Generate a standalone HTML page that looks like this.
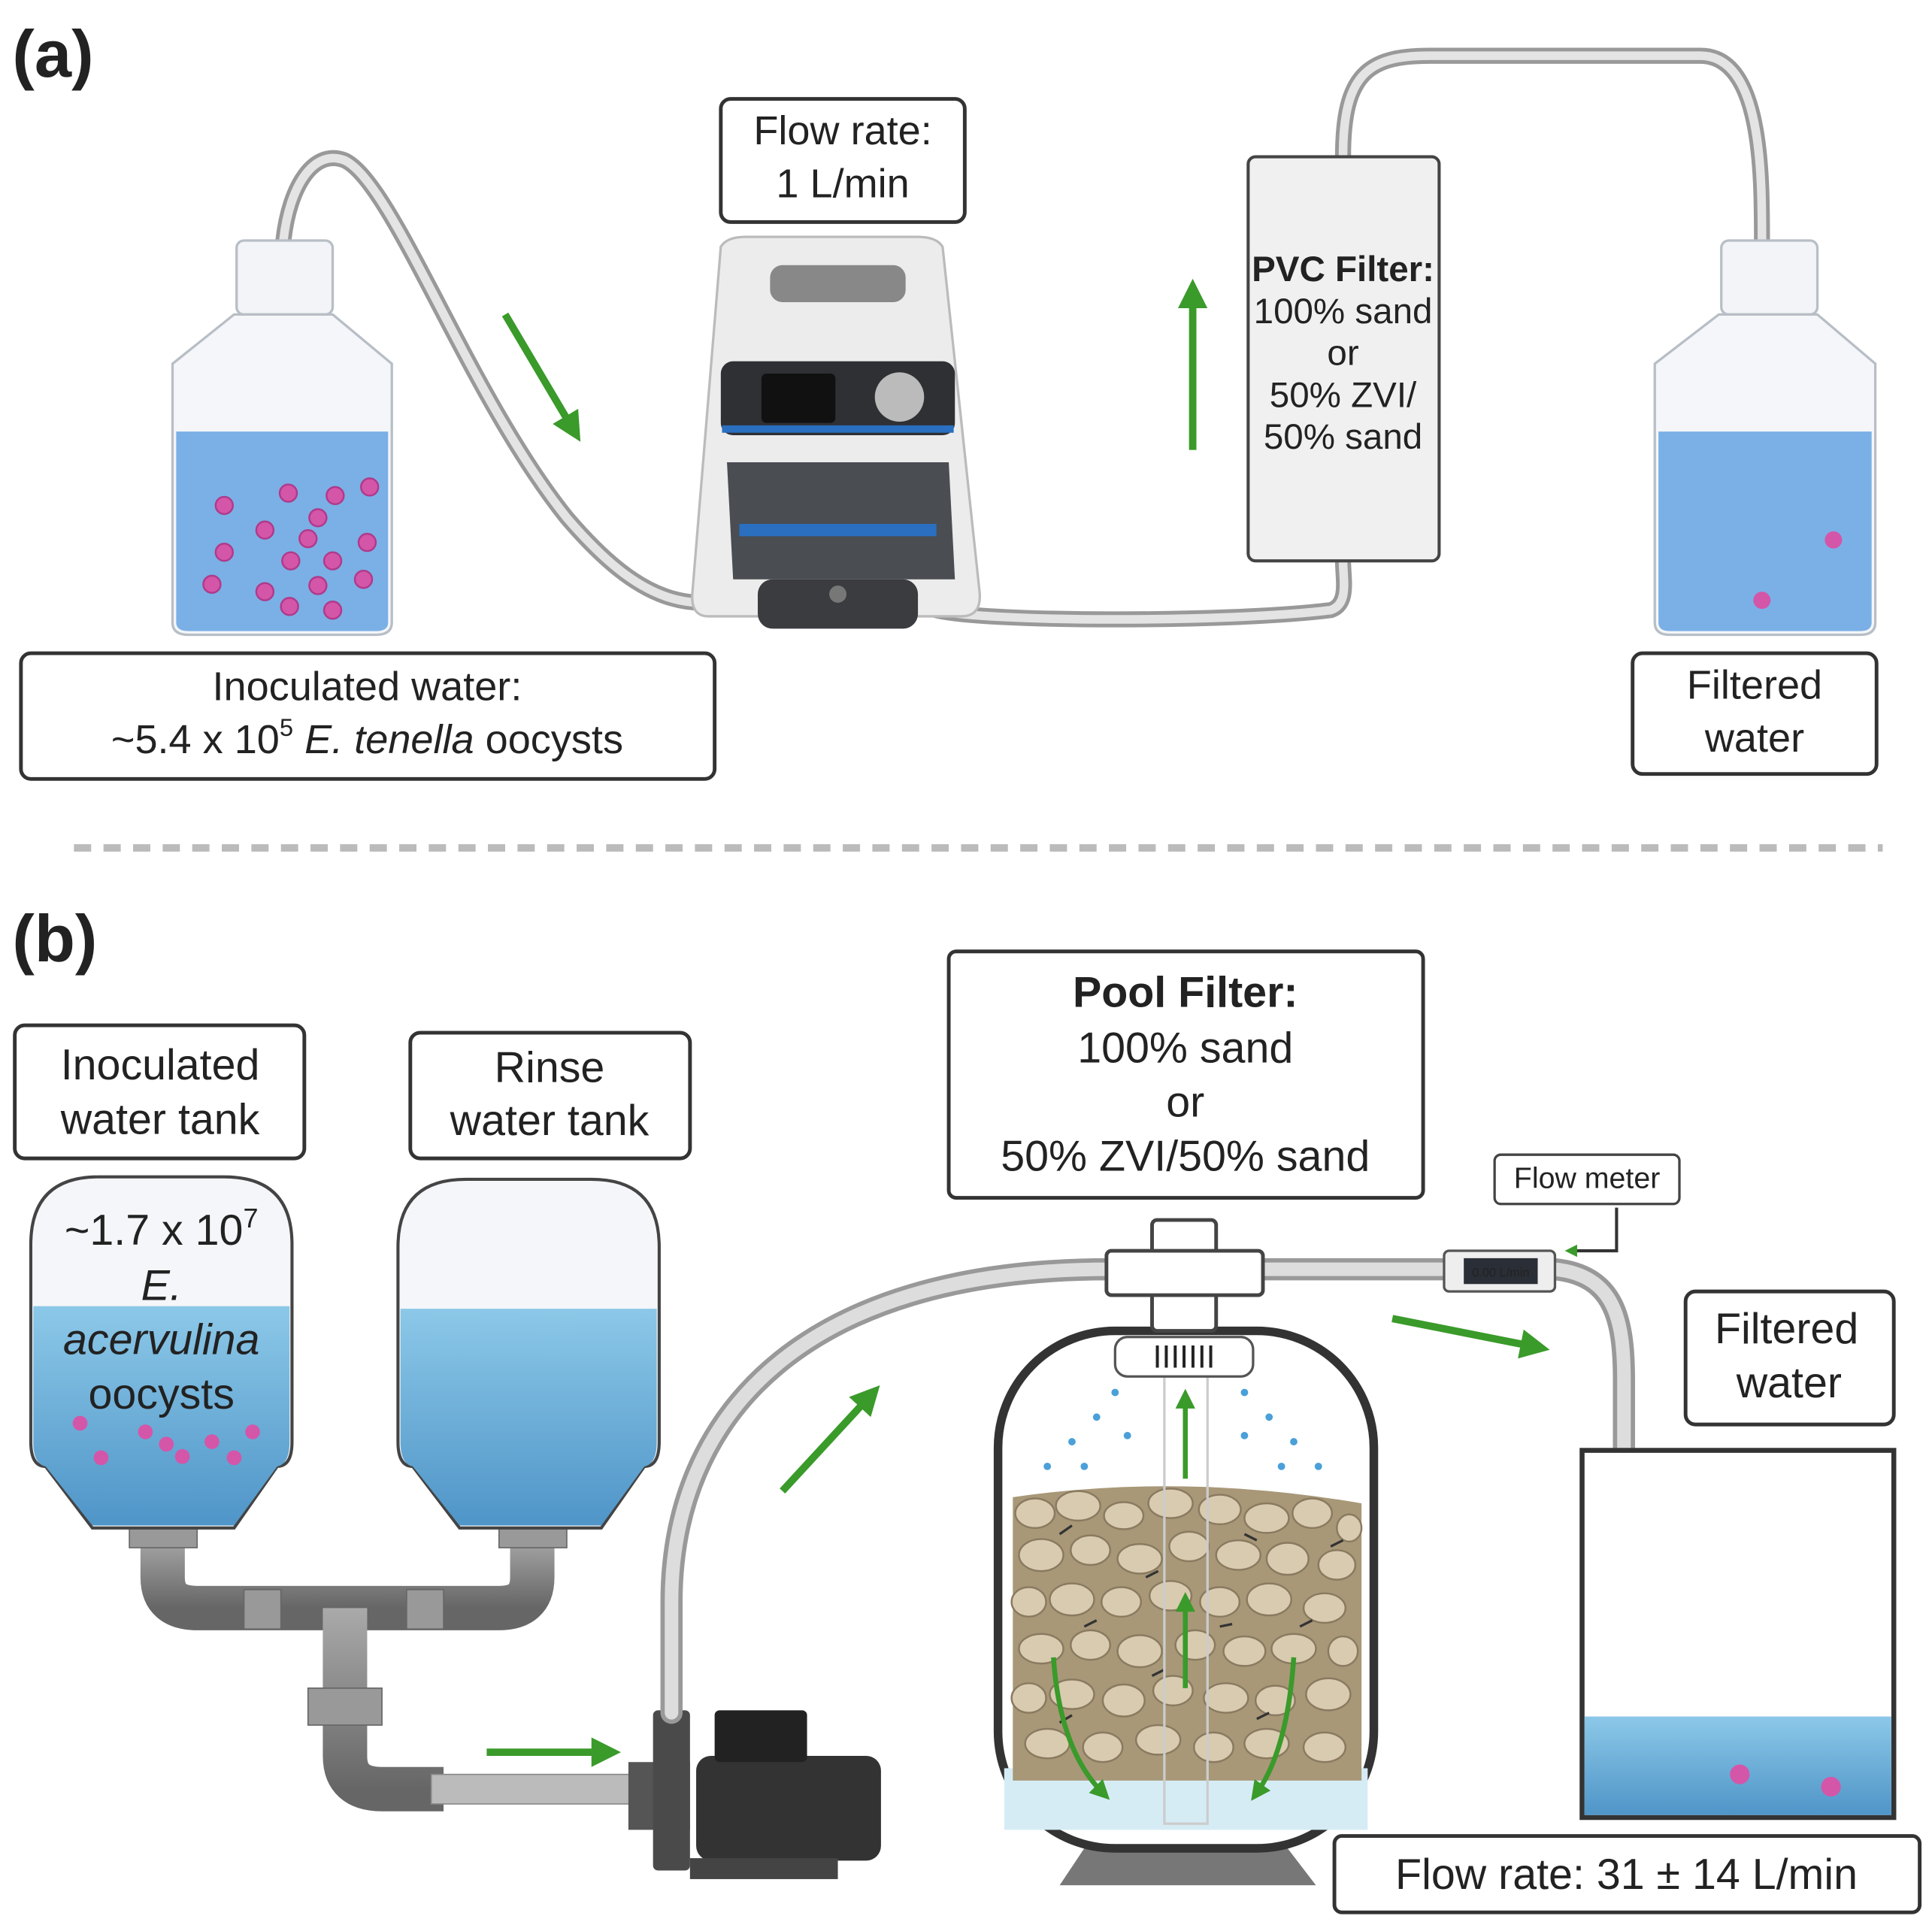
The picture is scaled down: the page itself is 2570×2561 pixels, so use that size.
<!DOCTYPE html>
<html><head><meta charset="utf-8"><style>
html,body{margin:0;padding:0;background:#fff}
svg{display:block}
text{font-family:"Liberation Sans",sans-serif;fill:#222}
</style></head><body>
<svg width="2570" height="2561" viewBox="0 0 1568 1562" xmlns="http://www.w3.org/2000/svg">
<defs>
<marker id="ah" viewBox="0 0 10 10" refX="5" refY="5" markerWidth="4" markerHeight="4" orient="auto"><path d="M0,0 L10,5 L0,10 z" fill="#3a9a2a"/></marker>
<linearGradient id="gw" x1="0" y1="0" x2="0" y2="1"><stop offset="0" stop-color="#8cc8e8"/><stop offset="1" stop-color="#4f95c8"/></linearGradient>
<linearGradient id="pipe" x1="0" y1="0" x2="0" y2="1"><stop offset="0" stop-color="#aaa"/><stop offset="0.5" stop-color="#888"/><stop offset="1" stop-color="#666"/></linearGradient>
</defs>
<rect width="1568" height="1562" fill="#fff"/>
<text x="10" y="62" font-size="54" font-weight="bold" fill="#111">(a)</text>
<g fill="none" stroke="#999" stroke-width="13" stroke-linecap="round">
<path d="M230,195 C235,150 255,120 280,130 C320,150 380,320 460,420 C520,490 560,500 620,480 C660,465 700,470 760,495 C800,505 1000,505 1080,495 C1095,490 1090,470 1090,455"/>
<path d="M1090,127 C1090,60 1110,45 1160,45 L1380,45 C1430,45 1430,140 1430,195"/>
</g>
<g fill="none" stroke="#e4e4e4" stroke-width="7" stroke-linecap="round">
<path d="M230,195 C235,150 255,120 280,130 C320,150 380,320 460,420 C520,490 560,500 620,480 C660,465 700,470 760,495 C800,505 1000,505 1080,495 C1095,490 1090,470 1090,455"/>
<path d="M1090,127 C1090,60 1110,45 1160,45 L1380,45 C1430,45 1430,140 1430,195"/>
</g>
<rect x="192" y="195" width="78" height="60" rx="6" fill="#f2f4f7" stroke="#b8bec6" stroke-width="2"/>
<path d="M140,295 L190,255 L270,255 L318,295 L318,505 Q318,515 305,515 L153,515 Q140,515 140,505 Z" fill="#f4f6f9" stroke="#b8bec6" stroke-width="2"/>
<path d="M143,350 L315,350 L315,505 Q315,512 305,512 L153,512 Q143,512 143,505 Z" fill="#7ab0e6"/>
<g fill="#d456a8" stroke="#b03a8a" stroke-width="1.5">
<circle cx="182" cy="410" r="7"/><circle cx="234" cy="400" r="7"/><circle cx="272" cy="402" r="7"/><circle cx="300" cy="395" r="7"/><circle cx="215" cy="430" r="7"/><circle cx="258" cy="420" r="7"/><circle cx="182" cy="448" r="7"/><circle cx="236" cy="455" r="7"/><circle cx="270" cy="455" r="7"/><circle cx="298" cy="440" r="7"/><circle cx="250" cy="437" r="7"/><circle cx="172" cy="474" r="7"/><circle cx="215" cy="480" r="7"/><circle cx="258" cy="475" r="7"/><circle cx="295" cy="470" r="7"/><circle cx="235" cy="492" r="7"/><circle cx="270" cy="495" r="7"/>
</g>
<rect x="1397" y="195" width="78" height="60" rx="6" fill="#f2f4f7" stroke="#b8bec6" stroke-width="2"/>
<path d="M1343,295 L1395,255 L1475,255 L1522,295 L1522,505 Q1522,515 1510,515 L1355,515 Q1343,515 1343,505 Z" fill="#f4f6f9" stroke="#b8bec6" stroke-width="2"/>
<path d="M1346,350 L1519,350 L1519,505 Q1519,512 1510,512 L1355,512 Q1346,512 1346,505 Z" fill="#7ab0e6"/>
<circle cx="1488" cy="438" r="7" fill="#d456a8"/><circle cx="1430" cy="487" r="7" fill="#d456a8"/>
<path d="M585,200 Q590,192 605,192 L745,192 Q760,192 765,200 L795,480 Q797,500 780,500 L575,500 Q560,500 562,480 Z" fill="#ececec" stroke="#bbb" stroke-width="2"/>
<rect x="625" y="215" width="110" height="30" rx="10" fill="#888"/>
<rect x="585" y="293" width="190" height="60" rx="10" fill="#2e3034"/>
<rect x="618" y="303" width="60" height="40" rx="4" fill="#111"/>
<circle cx="730" cy="322" r="20" fill="#bbb"/>
<rect x="586" y="345" width="188" height="6" fill="#2a6fc0"/>
<path d="M590,375 L770,375 L775,470 L595,470 Z" fill="#4a4d52"/>
<rect x="600" y="425" width="160" height="10" fill="#2a6fc0"/>
<rect x="615" y="470" width="130" height="40" rx="12" fill="#3a3c40"/>
<circle cx="680" cy="482" r="7" fill="#777"/>
<rect x="585" y="80" width="198" height="100" rx="8" fill="#fff" stroke="#333" stroke-width="3"/>
<text x="684" y="117" font-size="33" text-anchor="middle">Flow rate:</text>
<text x="684" y="160" font-size="33" text-anchor="middle">1 L/min</text>
<rect x="1013" y="127" width="155" height="328" rx="6" fill="#f0f0f0" stroke="#444" stroke-width="2.5"/>
<text x="1090" y="228" font-size="29" font-weight="bold" text-anchor="middle">PVC Filter:</text>
<text x="1090" y="262" font-size="29" text-anchor="middle">100% sand</text>
<text x="1090" y="296" font-size="29" text-anchor="middle">or</text>
<text x="1090" y="330" font-size="29" text-anchor="middle">50% ZVI/</text>
<text x="1090" y="364" font-size="29" text-anchor="middle">50% sand</text>
<line x1="410" y1="255" x2="465" y2="348" stroke="#3a9a2a" stroke-width="6" marker-end="url(#ah)"/>
<line x1="968" y1="365" x2="968" y2="238" stroke="#3a9a2a" stroke-width="6" marker-end="url(#ah)"/>
<rect x="17" y="530" width="563" height="102" rx="8" fill="#fff" stroke="#333" stroke-width="3"/>
<text x="298" y="568" font-size="33" text-anchor="middle">Inoculated water:</text>
<text x="298" y="611" font-size="33" text-anchor="middle">~5.4 x 10<tspan font-size="20" dy="-14">5</tspan><tspan dy="14"> </tspan><tspan font-style="italic">E. tenella</tspan> oocysts</text>
<rect x="1325" y="530" width="198" height="98" rx="8" fill="#fff" stroke="#333" stroke-width="3"/>
<text x="1424" y="567" font-size="33" text-anchor="middle">Filtered</text>
<text x="1424" y="610" font-size="33" text-anchor="middle">water</text>
<line x1="60" y1="688" x2="1528" y2="688" stroke="#bbb" stroke-width="6" stroke-dasharray="14,10"/>
<text x="10" y="780" font-size="54" font-weight="bold" fill="#111">(b)</text>
<rect x="12" y="832" width="235" height="108" rx="8" fill="#fff" stroke="#333" stroke-width="3"/>
<text x="130" y="876" font-size="35" text-anchor="middle">Inoculated</text>
<text x="130" y="920" font-size="35" text-anchor="middle">water tank</text>
<rect x="333" y="838" width="227" height="102" rx="8" fill="#fff" stroke="#333" stroke-width="3"/>
<text x="446" y="878" font-size="35" text-anchor="middle">Rinse</text>
<text x="446" y="921" font-size="35" text-anchor="middle">water tank</text>
<g fill="none" stroke="url(#pipe)" stroke-width="36">
<path d="M132,1245 L132,1280 Q132,1305 160,1305 L405,1305 Q432,1305 432,1280 L432,1245"/>
<path d="M280,1305 L280,1425 Q280,1452 310,1452 L360,1452"/>
</g>
<rect x="350" y="1440" width="165" height="24" fill="#bbb" stroke="#888"/>
<g fill="#999" stroke="#666"><rect x="198" y="1290" width="30" height="32"/><rect x="330" y="1290" width="30" height="32"/><rect x="250" y="1370" width="60" height="30"/><rect x="105" y="1238" width="55" height="18"/><rect x="405" y="1238" width="55" height="18"/></g>
<path d="M25,1010 Q25,955 80,955 L182,955 Q237,955 237,1010 L237,1170 Q237,1190 225,1190 L190,1240 L75,1240 L37,1190 Q25,1190 25,1170 Z" fill="#f4f6f9" stroke="#444" stroke-width="2.5"/>
<path d="M27,1060 L235,1060 L235,1170 Q235,1188 225,1190 L190,1238 L75,1238 L37,1190 Q27,1188 27,1170 Z" fill="url(#gw)"/>
<path d="M323,1012 Q323,957 378,957 L480,957 Q535,957 535,1012 L535,1170 Q535,1190 523,1190 L488,1240 L373,1240 L335,1190 Q323,1190 323,1170 Z" fill="#f4f6f9" stroke="#444" stroke-width="2.5"/>
<path d="M325,1062 L533,1062 L533,1170 Q533,1188 523,1190 L488,1238 L373,1238 L335,1190 Q325,1188 325,1170 Z" fill="url(#gw)"/>
<g fill="#d456a8"><circle cx="65" cy="1155" r="6"/><circle cx="118" cy="1162" r="6"/><circle cx="135" cy="1172" r="6"/><circle cx="172" cy="1170" r="6"/><circle cx="205" cy="1162" r="6"/><circle cx="82" cy="1183" r="6"/><circle cx="148" cy="1182" r="6"/><circle cx="190" cy="1183" r="6"/></g>
<text x="131" y="1010" font-size="35" text-anchor="middle">~1.7 x 10<tspan font-size="22" dy="-14">7</tspan></text>
<text x="131" y="1055" font-size="35" text-anchor="middle" font-style="italic">E.</text>
<text x="131" y="1099" font-size="35" text-anchor="middle" font-style="italic">acervulina</text>
<text x="131" y="1143" font-size="35" text-anchor="middle">oocysts</text>
<rect x="510" y="1430" width="50" height="55" fill="#555"/>
<rect x="530" y="1388" width="30" height="130" rx="4" fill="#4a4a4a"/>
<rect x="565" y="1425" width="150" height="85" rx="12" fill="#333"/>
<rect x="580" y="1388" width="75" height="42" rx="4" fill="#222"/>
<rect x="560" y="1508" width="120" height="17" fill="#444"/>
<g fill="none" stroke="#999" stroke-width="18" stroke-linecap="round">
<path d="M545,1390 L545,1300 C545,1150 650,1030 900,1030"/>
<path d="M1025,1030 L1170,1030"/>
<path d="M1262,1030 C1310,1035 1318,1070 1318,1120 L1318,1392"/>
</g>
<g fill="none" stroke="#ddd" stroke-width="11" stroke-linecap="round">
<path d="M545,1390 L545,1300 C545,1150 650,1030 900,1030"/>
<path d="M1025,1030 L1170,1030"/>
<path d="M1262,1030 C1310,1035 1318,1070 1318,1120 L1318,1392"/>
</g>
<path d="M880,1500 L1045,1500 L1068,1530 L860,1530 Z" fill="#777"/>
<rect x="810" y="1080" width="305" height="420" rx="95" fill="#fff" stroke="#333" stroke-width="7"/>
<rect x="815" y="1435" width="295" height="50" fill="#d6ecf5"/>
<path d="M822,1215 Q960,1195 1105,1220 L1105,1445 L822,1445 Z" fill="#a89878"/>
<g fill="#d8cbb0" stroke="#8a7a60" stroke-width="1.5">
<ellipse cx="840" cy="1228" rx="16" ry="12"/><ellipse cx="875" cy="1222" rx="18" ry="12"/><ellipse cx="912" cy="1230" rx="16" ry="11"/><ellipse cx="950" cy="1220" rx="18" ry="12"/><ellipse cx="990" cy="1225" rx="17" ry="12"/><ellipse cx="1028" cy="1232" rx="18" ry="12"/><ellipse cx="1065" cy="1228" rx="16" ry="12"/><ellipse cx="1095" cy="1240" rx="10" ry="11"/>
<ellipse cx="845" cy="1262" rx="18" ry="13"/><ellipse cx="885" cy="1258" rx="16" ry="12"/><ellipse cx="925" cy="1265" rx="18" ry="12"/><ellipse cx="965" cy="1255" rx="16" ry="12"/><ellipse cx="1005" cy="1262" rx="18" ry="12"/><ellipse cx="1045" cy="1265" rx="17" ry="13"/><ellipse cx="1085" cy="1270" rx="15" ry="12"/>
<ellipse cx="835" cy="1300" rx="14" ry="12"/><ellipse cx="870" cy="1298" rx="18" ry="13"/><ellipse cx="910" cy="1300" rx="16" ry="12"/><ellipse cx="950" cy="1295" rx="17" ry="12"/><ellipse cx="990" cy="1300" rx="16" ry="12"/><ellipse cx="1030" cy="1298" rx="18" ry="13"/><ellipse cx="1075" cy="1305" rx="17" ry="12"/>
<ellipse cx="845" cy="1338" rx="18" ry="12"/><ellipse cx="885" cy="1335" rx="16" ry="12"/><ellipse cx="925" cy="1340" rx="18" ry="13"/><ellipse cx="970" cy="1335" rx="16" ry="12"/><ellipse cx="1010" cy="1340" rx="17" ry="12"/><ellipse cx="1050" cy="1338" rx="18" ry="12"/><ellipse cx="1090" cy="1340" rx="12" ry="12"/>
<ellipse cx="835" cy="1378" rx="14" ry="12"/><ellipse cx="870" cy="1375" rx="18" ry="12"/><ellipse cx="912" cy="1380" rx="17" ry="13"/><ellipse cx="952" cy="1372" rx="16" ry="12"/><ellipse cx="995" cy="1378" rx="18" ry="12"/><ellipse cx="1035" cy="1380" rx="16" ry="12"/><ellipse cx="1078" cy="1375" rx="18" ry="13"/>
<ellipse cx="850" cy="1415" rx="18" ry="12"/><ellipse cx="895" cy="1418" rx="16" ry="12"/><ellipse cx="940" cy="1412" rx="18" ry="12"/><ellipse cx="985" cy="1418" rx="16" ry="12"/><ellipse cx="1028" cy="1415" rx="18" ry="12"/><ellipse cx="1075" cy="1418" rx="17" ry="12"/>
</g>
<g stroke="#333" stroke-width="2">
<line x1="860" y1="1245" x2="870" y2="1238"/><line x1="930" y1="1280" x2="940" y2="1275"/><line x1="1010" y1="1245" x2="1020" y2="1250"/><line x1="880" y1="1320" x2="890" y2="1315"/><line x1="1055" y1="1320" x2="1065" y2="1315"/><line x1="935" y1="1360" x2="945" y2="1355"/><line x1="1020" y1="1395" x2="1030" y2="1390"/><line x1="860" y1="1398" x2="870" y2="1392"/><line x1="990" y1="1320" x2="1000" y2="1318"/><line x1="1080" y1="1255" x2="1090" y2="1250"/>
</g>
<rect x="945" y="1110" width="35" height="370" fill="none" stroke="#ccc" stroke-width="2"/>
<rect x="905" y="1085" width="112" height="32" rx="10" fill="#fff" stroke="#555" stroke-width="2"/>
<text x="961" y="1110" font-size="26" text-anchor="middle" fill="#333">IIIIIII</text>
<g fill="#4aa0d8"><circle cx="850" cy="1190" r="3"/><circle cx="870" cy="1170" r="3"/><circle cx="890" cy="1150" r="3"/><circle cx="905" cy="1130" r="3"/><circle cx="880" cy="1190" r="3"/><circle cx="915" cy="1165" r="3"/><circle cx="1010" cy="1130" r="3"/><circle cx="1030" cy="1150" r="3"/><circle cx="1050" cy="1170" r="3"/><circle cx="1070" cy="1190" r="3"/><circle cx="1040" cy="1190" r="3"/><circle cx="1010" cy="1165" r="3"/></g>
<rect x="935" y="990" width="52" height="90" rx="4" fill="#fff" stroke="#444" stroke-width="3"/>
<rect x="898" y="1015" width="127" height="36" rx="4" fill="#fff" stroke="#444" stroke-width="3"/>
<line x1="962" y1="1200" x2="962" y2="1135" stroke="#3a9a2a" stroke-width="4" marker-end="url(#ah)"/>
<line x1="962" y1="1370" x2="962" y2="1300" stroke="#3a9a2a" stroke-width="4" marker-end="url(#ah)"/>
<path d="M855,1345 Q860,1420 895,1455" fill="none" stroke="#3a9a2a" stroke-width="4" marker-end="url(#ah)"/>
<path d="M1050,1345 Q1045,1420 1020,1455" fill="none" stroke="#3a9a2a" stroke-width="4" marker-end="url(#ah)"/>
<rect x="1172" y="1015" width="90" height="33" rx="4" fill="#eee" stroke="#555" stroke-width="2"/>
<rect x="1188" y="1021" width="60" height="21" fill="#2a2e36"/>
<text x="1218" y="1036" font-size="10" text-anchor="middle" fill="#fff">0.00 L/min</text>
<path d="M1312,980 L1312,1015 L1275,1015" fill="none" stroke="#333" stroke-width="2.5" marker-end="url(#ah)"/>
<rect x="1213" y="937" width="150" height="40" rx="5" fill="#fff" stroke="#444" stroke-width="2"/>
<text x="1288" y="964" font-size="24" text-anchor="middle">Flow meter</text>
<rect x="770" y="772" width="385" height="200" rx="6" fill="#fff" stroke="#333" stroke-width="3"/>
<text x="962" y="817" font-size="35" font-weight="bold" text-anchor="middle">Pool Filter:</text>
<text x="962" y="862" font-size="35" text-anchor="middle">100% sand</text>
<text x="962" y="906" font-size="35" text-anchor="middle">or</text>
<text x="962" y="950" font-size="35" text-anchor="middle">50% ZVI/50% sand</text>
<rect x="1284" y="1177" width="253" height="298" fill="#fff" stroke="#333" stroke-width="4"/>
<rect x="1286" y="1393" width="249" height="80" fill="url(#gw)"/>
<circle cx="1412" cy="1440" r="8" fill="#d456a8"/><circle cx="1486" cy="1450" r="8" fill="#d456a8"/>
<rect x="1368" y="1048" width="169" height="108" rx="8" fill="#fff" stroke="#333" stroke-width="3"/>
<text x="1450" y="1090" font-size="35" text-anchor="middle">Filtered</text>
<text x="1452" y="1134" font-size="35" text-anchor="middle">water</text>
<rect x="1083" y="1490" width="475" height="62" rx="6" fill="#fff" stroke="#333" stroke-width="3"/>
<text x="1320" y="1533" font-size="35" text-anchor="middle">Flow rate: 31 ± 14 L/min</text>
<line x1="635" y1="1210" x2="706" y2="1133" stroke="#3a9a2a" stroke-width="6" marker-end="url(#ah)"/>
<line x1="1130" y1="1070" x2="1246" y2="1093" stroke="#3a9a2a" stroke-width="6" marker-end="url(#ah)"/>
<line x1="395" y1="1422" x2="492" y2="1422" stroke="#3a9a2a" stroke-width="6" marker-end="url(#ah)"/>
</svg>
</body></html>
